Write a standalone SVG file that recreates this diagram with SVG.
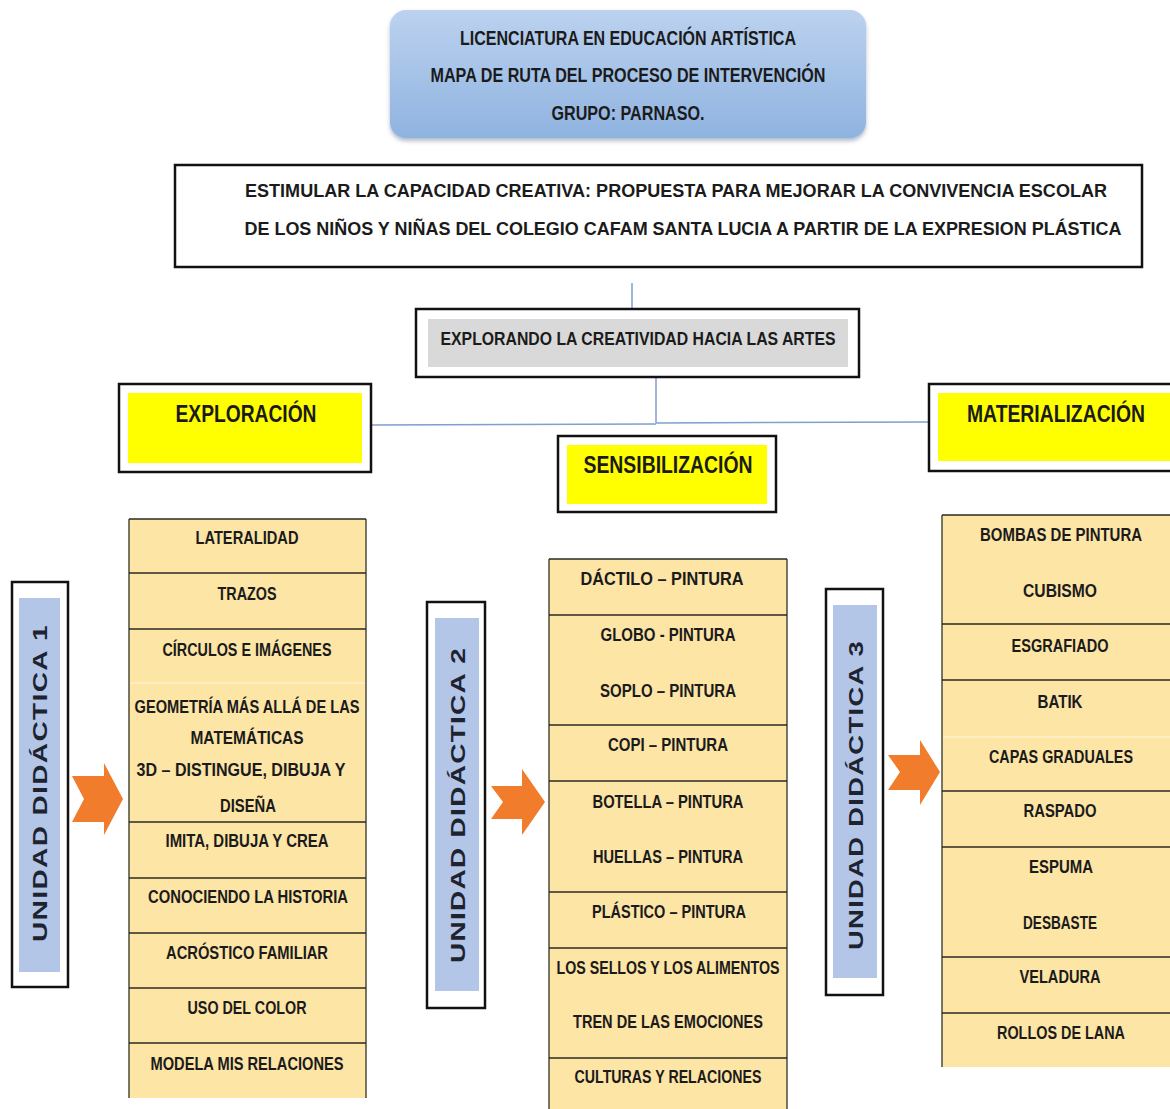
<svg xmlns="http://www.w3.org/2000/svg" width="1170" height="1109" viewBox="0 0 1170 1109">
<defs>
<linearGradient id="gTitle" x1="0" y1="0" x2="0" y2="1">
<stop offset="0" stop-color="#bcd2ef"/>
<stop offset="1" stop-color="#8fb3e0"/>
</linearGradient>
<filter id="sh" x="-5%" y="-5%" width="110%" height="120%">
<feDropShadow dx="0" dy="3" stdDeviation="2" flood-color="#7f8fa8" flood-opacity="0.6"/>
</filter>
</defs>
<style>
.t{font-family:"Liberation Sans",Arial,sans-serif;font-weight:bold;fill:#1b1b1b;text-anchor:middle;}
.ti{font-size:20px;}
.mb{font-size:18px;}
.hd{font-size:24px;}
.li{font-size:19px;}
.ud{font-size:21px;letter-spacing:1px;fill:#1e2330;}
.box{fill:#ffffff;stroke:#111;stroke-width:2.5;}
.yel{fill:#ffff00;}
.col{fill:#fde5a6;}
.edge{stroke:#4a4a3a;stroke-width:1.5;fill:none;}
.div{stroke:#2a2a22;stroke-width:1.5;}
.faint{stroke:#fff1c8;stroke-width:1.5;}
.blue{fill:#b3c6e8;}
.arr{fill:#f07c2c;}
.con{stroke:#7f9fcf;stroke-width:1.5;fill:none;}
</style>
<rect width="1170" height="1109" fill="#ffffff"/>

<g id="connectors">
<line class="con" x1="632" y1="283" x2="632" y2="308"/>
<line class="con" x1="656" y1="377" x2="656" y2="423"/>
<line class="con" x1="371" y1="425" x2="656" y2="424"/>
<line class="con" x1="656" y1="423" x2="928" y2="422"/>
</g>

<g id="title">
<rect x="390" y="10" width="476" height="128" rx="16" fill="url(#gTitle)" filter="url(#sh)"/>
<text class="t ti" x="628" y="45" textLength="336" lengthAdjust="spacingAndGlyphs">LICENCIATURA EN EDUCACIÓN ARTÍSTICA</text>
<text class="t ti" x="628" y="82" textLength="395" lengthAdjust="spacingAndGlyphs">MAPA DE RUTA DEL PROCESO DE INTERVENCIÓN</text>
<text class="t ti" x="628" y="120" textLength="153" lengthAdjust="spacingAndGlyphs">GRUPO: PARNASO.</text>
</g>

<g id="main-topic">
<rect class="box" x="175" y="165" width="967" height="102"/>
<text class="t mb" x="676" y="197" textLength="862" lengthAdjust="spacingAndGlyphs">ESTIMULAR LA CAPACIDAD CREATIVA: PROPUESTA PARA MEJORAR LA CONVIVENCIA ESCOLAR</text>
<text class="t mb" x="683" y="235" textLength="877" lengthAdjust="spacingAndGlyphs">DE LOS NIÑOS Y NIÑAS DEL COLEGIO CAFAM SANTA LUCIA A PARTIR DE LA EXPRESION PLÁSTICA</text>
</g>

<g id="explorando">
<rect class="box" x="416" y="309" width="443" height="68"/>
<rect x="428" y="319" width="420" height="48" fill="#d9d9d9"/>
<text class="t mb" x="638" y="345" textLength="395" lengthAdjust="spacingAndGlyphs">EXPLORANDO LA CREATIVIDAD HACIA LAS ARTES</text>
</g>

<g id="exploracion">
<rect class="box" x="119" y="384" width="252" height="88"/>
<rect class="yel" x="128" y="393" width="234" height="70"/>
<text class="t hd" x="246" y="422" textLength="141" lengthAdjust="spacingAndGlyphs">EXPLORACIÓN</text>
</g>

<g id="sensibilizacion">
<rect class="box" x="558" y="436" width="218" height="76"/>
<rect class="yel" x="567" y="445" width="200" height="59"/>
<text class="t hd" x="668" y="473" textLength="169" lengthAdjust="spacingAndGlyphs">SENSIBILIZACIÓN</text>
</g>

<g id="materializacion">
<rect class="box" x="929" y="384" width="250" height="87"/>
<rect class="yel" x="938" y="393" width="240" height="68"/>
<text class="t hd" x="1056" y="422" textLength="178" lengthAdjust="spacingAndGlyphs">MATERIALIZACIÓN</text>
</g>

<g id="unidad1">
<rect class="box" x="12" y="582" width="56" height="405"/>
<rect class="blue" x="19" y="598" width="41" height="374"/>
<text class="t ud" transform="translate(47,783) rotate(-90)" textLength="318" lengthAdjust="spacingAndGlyphs">UNIDAD DIDÁCTICA 1</text>
</g>
<g id="arrow1"><path class="arr" d="M72,776 L104,776 L104,763 L123,799 L104,835 L104,822 L72,822 L84,799 Z"/></g>

<g id="list1">
<rect class="col" x="129" y="519" width="237" height="579"/>
<line class="edge" x1="129" y1="519" x2="129" y2="1098"/>
<line class="edge" x1="366" y1="519" x2="366" y2="1098"/>
<line class="div" x1="129" y1="519" x2="366" y2="519"/>
<line class="div" x1="129" y1="573" x2="366" y2="573"/>
<line class="div" x1="129" y1="629" x2="366" y2="629"/>
<line class="faint" x1="130" y1="683" x2="365" y2="683"/>
<line class="div" x1="129" y1="822" x2="366" y2="822"/>
<line class="div" x1="129" y1="878" x2="366" y2="878"/>
<line class="div" x1="129" y1="933" x2="366" y2="933"/>
<line class="div" x1="129" y1="988" x2="366" y2="988"/>
<line class="div" x1="129" y1="1043" x2="366" y2="1043"/>
<text class="t li" x="247" y="544" textLength="103" lengthAdjust="spacingAndGlyphs">LATERALIDAD</text>
<text class="t li" x="247" y="600" textLength="59" lengthAdjust="spacingAndGlyphs">TRAZOS</text>
<text class="t li" x="247" y="656" textLength="169" lengthAdjust="spacingAndGlyphs">CÍRCULOS E IMÁGENES</text>
<text class="t li" x="247" y="713" textLength="225" lengthAdjust="spacingAndGlyphs">GEOMETRÍA MÁS ALLÁ DE LAS</text>
<text class="t li" x="247" y="744" textLength="113" lengthAdjust="spacingAndGlyphs">MATEMÁTICAS</text>
<text class="t li" x="241" y="776" textLength="209" lengthAdjust="spacingAndGlyphs">3D – DISTINGUE, DIBUJA Y</text>
<text class="t li" x="248" y="812" textLength="56" lengthAdjust="spacingAndGlyphs">DISEÑA</text>
<text class="t li" x="247" y="847" textLength="163" lengthAdjust="spacingAndGlyphs">IMITA, DIBUJA Y CREA</text>
<text class="t li" x="248" y="903" textLength="200" lengthAdjust="spacingAndGlyphs">CONOCIENDO LA HISTORIA</text>
<text class="t li" x="247" y="959" textLength="162" lengthAdjust="spacingAndGlyphs">ACRÓSTICO FAMILIAR</text>
<text class="t li" x="247" y="1014" textLength="119" lengthAdjust="spacingAndGlyphs">USO DEL COLOR</text>
<text class="t li" x="247" y="1070" textLength="193" lengthAdjust="spacingAndGlyphs">MODELA MIS RELACIONES</text>
</g>

<g id="unidad2">
<rect class="box" x="427" y="602" width="58" height="406"/>
<rect class="blue" x="435" y="618" width="44" height="373"/>
<text class="t ud" transform="translate(465,805) rotate(-90)" textLength="316" lengthAdjust="spacingAndGlyphs">UNIDAD DIDÁCTICA 2</text>
</g>
<g id="arrow2"><path class="arr" d="M491,786 L522,786 L522,769 L545,802 L522,835 L522,819 L491,819 L503,802 Z"/></g>

<g id="list2">
<rect class="col" x="549" y="559" width="238" height="550"/>
<line class="edge" x1="549" y1="559" x2="549" y2="1109"/>
<line class="edge" x1="787" y1="559" x2="787" y2="1109"/>
<line class="div" x1="549" y1="559" x2="787" y2="559"/>
<line class="div" x1="549" y1="615" x2="787" y2="615"/>
<line class="div" x1="549" y1="725" x2="787" y2="725"/>
<line class="div" x1="549" y1="781" x2="787" y2="781"/>
<line class="div" x1="549" y1="892" x2="787" y2="892"/>
<line class="div" x1="549" y1="948" x2="787" y2="948"/>
<line class="div" x1="549" y1="1058" x2="787" y2="1058"/>
<text class="t li" x="662" y="585" textLength="163" lengthAdjust="spacingAndGlyphs">DÁCTILO – PINTURA</text>
<text class="t li" x="668" y="641" textLength="135" lengthAdjust="spacingAndGlyphs">GLOBO - PINTURA</text>
<text class="t li" x="668" y="697" textLength="136" lengthAdjust="spacingAndGlyphs">SOPLO – PINTURA</text>
<text class="t li" x="668" y="751" textLength="120" lengthAdjust="spacingAndGlyphs">COPI – PINTURA</text>
<text class="t li" x="668" y="808" textLength="151" lengthAdjust="spacingAndGlyphs">BOTELLA – PINTURA</text>
<text class="t li" x="668" y="863" textLength="150" lengthAdjust="spacingAndGlyphs">HUELLAS – PINTURA</text>
<text class="t li" x="669" y="918" textLength="154" lengthAdjust="spacingAndGlyphs">PLÁSTICO – PINTURA</text>
<text class="t li" x="668" y="974" textLength="223" lengthAdjust="spacingAndGlyphs">LOS SELLOS Y LOS ALIMENTOS</text>
<text class="t li" x="668" y="1028" textLength="190" lengthAdjust="spacingAndGlyphs">TREN DE LAS EMOCIONES</text>
<text class="t li" x="668" y="1083" textLength="187" lengthAdjust="spacingAndGlyphs">CULTURAS Y RELACIONES</text>
</g>

<g id="unidad3">
<rect class="box" x="826" y="589" width="57" height="406"/>
<rect class="blue" x="833" y="605" width="44" height="373"/>
<text class="t ud" transform="translate(863,795) rotate(-90)" textLength="310" lengthAdjust="spacingAndGlyphs">UNIDAD DIDÁCTICA 3</text>
</g>
<g id="arrow3"><path class="arr" d="M888,755 L920,755 L920,740 L940,772 L920,805 L920,790 L888,790 L900,772 Z"/></g>

<g id="list3">
<rect class="col" x="942" y="515" width="240" height="552"/>
<line class="edge" x1="942" y1="515" x2="942" y2="1067"/>
<line class="div" x1="942" y1="515" x2="1170" y2="515"/>
<line class="div" x1="942" y1="624" x2="1170" y2="624"/>
<line class="div" x1="942" y1="680" x2="1170" y2="680"/>
<line class="faint" x1="943" y1="737" x2="1170" y2="737"/>
<line class="div" x1="942" y1="791" x2="1170" y2="791"/>
<line class="div" x1="942" y1="847" x2="1170" y2="847"/>
<line class="div" x1="942" y1="957" x2="1170" y2="957"/>
<line class="div" x1="942" y1="1013" x2="1170" y2="1013"/>
<text class="t li" x="1061" y="541" textLength="162" lengthAdjust="spacingAndGlyphs">BOMBAS DE PINTURA</text>
<text class="t li" x="1060" y="597" textLength="74" lengthAdjust="spacingAndGlyphs">CUBISMO</text>
<text class="t li" x="1060" y="652" textLength="97" lengthAdjust="spacingAndGlyphs">ESGRAFIADO</text>
<text class="t li" x="1060" y="708" textLength="45" lengthAdjust="spacingAndGlyphs">BATIK</text>
<text class="t li" x="1061" y="763" textLength="144" lengthAdjust="spacingAndGlyphs">CAPAS GRADUALES</text>
<text class="t li" x="1060" y="817" textLength="73" lengthAdjust="spacingAndGlyphs">RASPADO</text>
<text class="t li" x="1061" y="873" textLength="64" lengthAdjust="spacingAndGlyphs">ESPUMA</text>
<text class="t li" x="1060" y="929" textLength="74" lengthAdjust="spacingAndGlyphs">DESBASTE</text>
<text class="t li" x="1060" y="983" textLength="81" lengthAdjust="spacingAndGlyphs">VELADURA</text>
<text class="t li" x="1061" y="1039" textLength="128" lengthAdjust="spacingAndGlyphs">ROLLOS DE LANA</text>
</g>
</svg>
